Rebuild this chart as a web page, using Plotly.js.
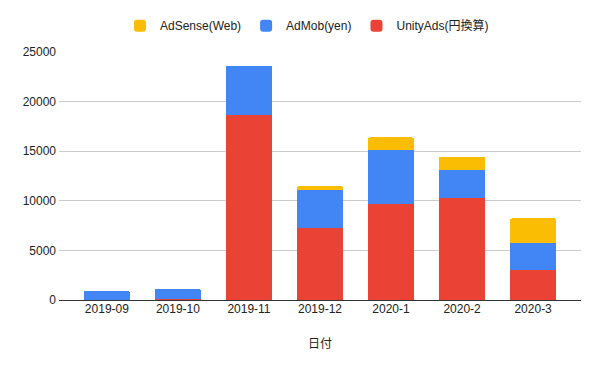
<!DOCTYPE html>
<html>
<head>
<meta charset="utf-8">
<script src="https://cdn.plot.ly/plotly-3.0.1.min.js"></script>
<style>html,body{margin:0;padding:0;background:#fff}#chart{width:600px;height:371px}</style>
</head>
<body>
<div id="chart"></div>
<script>
const categories = ['2019-09', '2019-10', '2019-11', '2019-12', '2020-1', '2020-2', '2020-3'];
const unityAds = [0, 100, 18700, 7260, 9670, 10275, 3045];
const adMob = [930, 1035, 4925, 3815, 5490, 2880, 2680];
const adSense = [0, 0, 0, 400, 1235, 1305, 2510];
const seriesNames = ['UnityAds(円換算)', 'AdMob(yen)', 'AdSense(Web)'];
const colors = ['#EA4335', '#4285F4', '#FBBC04'];
const yTicks = [0, 5000, 10000, 15000, 20000, 25000];

const font = "Arial, 'Liberation Sans', 'Noto Sans CJK JP', sans-serif";
const data = [unityAds, adMob, adSense].map((vals, i) => ({
  type: 'bar', x: categories, y: vals, name: seriesNames[i],
  marker: {color: colors[i], line: {width: 0}},
  hoverinfo: 'x+y+name'
}));

const layout = {
  width: 600, height: 371,
  margin: {l: 59, r: 19, t: 51, b: 71},
  barmode: 'stack', bargap: 0.354, barcornerradius: 2,
  paper_bgcolor: '#fff', plot_bgcolor: '#fff',
  font: {family: font, size: 12, color: '#222'},
  showlegend: true,
  legend: {orientation: 'h', x: 0.475, xanchor: 'center', y: 1.16, yanchor: 'top',
           traceorder: 'reversed', font: {size: 12, color: '#222'}, itemclick: false},
  xaxis: {type: 'category', range: [-0.674, 6.674], showgrid: false, zeroline: false,
          showline: false, ticks: '', tickfont: {size: 12, color: '#222'},
          title: {text: '日付', font: {size: 12, color: '#222', family: "'Noto Sans CJK JP', sans-serif"}, standoff: 24}},
  yaxis: {range: [0, 25000], tickvals: yTicks, ticktext: yTicks.map(String),
          showgrid: true, gridcolor: '#ccc', gridwidth: 1, zeroline: true,
          zerolinecolor: '#333', zerolinewidth: 1, showline: false, ticks: '',
          tickfont: {size: 12, color: '#222'}, ticklabelstandoff: 2}
};
Plotly.newPlot('chart', data, layout, {displayModeBar: false, staticPlot: true});
</script>
</body>
</html>
